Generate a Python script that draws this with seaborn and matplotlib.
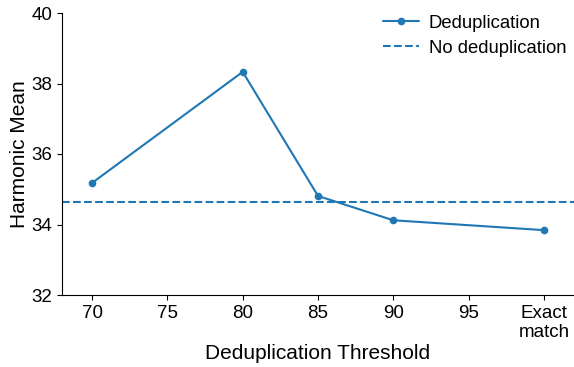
import pandas as pd
import seaborn as sns
import matplotlib.pyplot as plt

# Data
thresholds = [70, 80, 85, 90, 100]
harmonic_mean = [35.18, 38.33, 34.81, 34.12, 33.84]
no_dedup = 34.63
tick_positions = [70, 75, 80, 85, 90, 95, 100]
tick_labels = ['70', '75', '80', '85', '90', '95', 'Exact\nmatch']

df = pd.DataFrame({'threshold': thresholds, 'hm': harmonic_mean})

sns.set_style('ticks', {'axes.edgecolor': 'black', 'text.color': 'black',
                        'axes.labelcolor': 'black', 'xtick.color': 'black',
                        'ytick.color': 'black'})
plt.rcParams['font.family'] = ['Liberation Sans', 'DejaVu Sans']

fig = plt.figure(figsize=(5.74, 3.67), dpi=100)
ax = fig.add_axes([62 / 574, 72 / 367, 1 - 62 / 574, 282 / 367])

sns.lineplot(x='threshold', y='hm', data=df, marker='o', markersize=5.5,
             markeredgewidth=0, color='#1f77b4', linewidth=1.5,
             label='Deduplication', ax=ax)
ax.axhline(no_dedup, color='#1f77b4', linestyle='--', linewidth=1.5,
           label='No deduplication')

ax.set_xlim(68, 102)
ax.set_ylim(32, 40)
ax.set_xticks(tick_positions)
ax.set_xticklabels(tick_labels)
ax.set_yticks([32, 34, 36, 38, 40])
ax.tick_params(axis='both', labelsize=13.5)

ax.set_xlabel('Deduplication Threshold', fontsize=15, labelpad=2)
ax.set_ylabel('Harmonic Mean', fontsize=15, labelpad=2)

sns.despine(ax=ax)
ax.legend(loc='upper right', frameon=False, fontsize=13.3,
          bbox_to_anchor=(1.01, 1.04), handlelength=2.0, handletextpad=0.5,
          borderpad=0.2, labelspacing=0.45)

plt.savefig('out.png', dpi=100)
